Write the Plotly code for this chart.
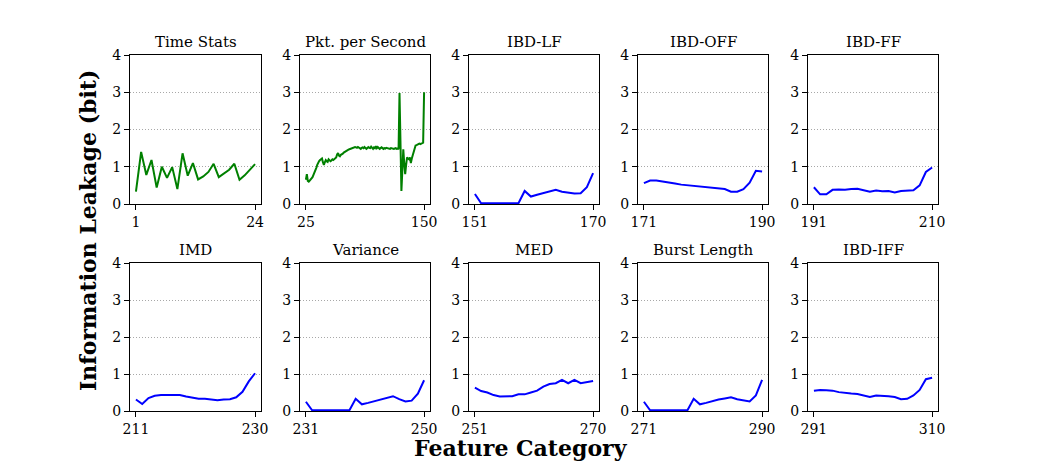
import plotly.graph_objects as go

titles = ["Time Stats", "Pkt. per Second", "IBD-LF", "IBD-OFF", "IBD-FF",
          "IMD", "Variance", "MED", "Burst Length", "IBD-IFF"]
x_starts = [1, 25, 151, 171, 191, 211, 231, 251, 271, 291]
x_ends = [24, 150, 170, 190, 210, 230, 250, 270, 290, 310]

time_stats = [0.33, 1.40, 0.78, 1.18, 0.44, 1.00, 0.70, 0.99, 0.40, 1.36, 0.76, 1.10,
              0.66, 0.74, 0.86, 1.08, 0.72, 0.82, 0.92, 1.08, 0.65, 0.77, 0.91, 1.07]

pkt_per_second = [
    0.65, 0.80, 0.62, 0.60, 0.63, 0.66, 0.68, 0.72, 0.78, 0.83,
    0.88, 0.97, 1.05, 1.12, 1.15, 1.18, 1.20, 1.22, 1.12, 1.05,
    1.12, 1.18, 1.15, 1.13, 1.20, 1.17, 1.15, 1.17, 1.20, 1.18,
    1.20, 1.22, 1.25, 1.33, 1.37, 1.30, 1.28, 1.32, 1.33, 1.35,
    1.38, 1.40, 1.42, 1.43, 1.45, 1.46, 1.47, 1.48, 1.50, 1.52,
    1.52, 1.53, 1.53, 1.52, 1.51, 1.53, 1.52, 1.50, 1.48, 1.51,
    1.52, 1.50, 1.53, 1.50, 1.48, 1.50, 1.53, 1.51, 1.50, 1.54,
    1.50, 1.48, 1.52, 1.50, 1.55, 1.50, 1.53, 1.49, 1.48, 1.50,
    1.52, 1.50, 1.48, 1.50, 1.49, 1.51, 1.50, 1.49, 1.50, 1.48,
    1.50, 1.49, 1.50, 1.48, 1.49, 1.50, 1.48, 1.49, 1.47, 2.98,
    1.70, 0.35, 0.90, 1.47, 1.10, 0.80, 1.05, 1.25, 1.22, 1.20,
    1.25, 1.10, 1.22, 1.32, 1.45, 1.55, 1.57, 1.58, 1.60, 1.60,
    1.62, 1.61, 1.63, 1.64, 1.65, 3.00]

ibd_lf = [0.27, 0.02, 0.02, 0.02, 0.02, 0.02, 0.02, 0.02, 0.35, 0.20,
          0.25, 0.30, 0.35, 0.38, 0.33, 0.30, 0.28, 0.29, 0.45, 0.83]

ibd_off = [0.56, 0.63, 0.63, 0.61, 0.58, 0.55, 0.52, 0.50, 0.48, 0.46,
           0.44, 0.44, 0.40, 0.40, 0.33, 0.33, 0.40, 0.57, 0.89, 0.87]

ibd_ff = [0.45, 0.26, 0.26, 0.38, 0.39, 0.38, 0.40, 0.41, 0.37, 0.33,
          0.36, 0.34, 0.35, 0.31, 0.35, 0.35, 0.37, 0.50, 0.86, 0.98]

imd = [0.31, 0.19, 0.35, 0.41, 0.43, 0.43, 0.43, 0.43, 0.39, 0.35,
       0.33, 0.33, 0.32, 0.29, 0.31, 0.32, 0.37, 0.52, 0.80, 1.02]

variance = [0.25, 0.02, 0.02, 0.02, 0.02, 0.02, 0.02, 0.02, 0.33, 0.18,
            0.22, 0.27, 0.32, 0.36, 0.40, 0.32, 0.26, 0.28, 0.47, 0.83]

med = [0.63, 0.54, 0.50, 0.43, 0.39, 0.39, 0.40, 0.45, 0.45, 0.50,
       0.55, 0.66, 0.73, 0.75, 0.84, 0.75, 0.84, 0.75, 0.79, 0.81]

burst_length = [0.25, 0.02, 0.02, 0.02, 0.02, 0.02, 0.02, 0.02, 0.33, 0.18,
                0.22, 0.27, 0.31, 0.34, 0.37, 0.32, 0.28, 0.26, 0.42, 0.84]

ibd_iff = [0.55, 0.57, 0.56, 0.55, 0.51, 0.48, 0.47, 0.46, 0.43, 0.38,
           0.42, 0.42, 0.40, 0.38, 0.32, 0.33, 0.42, 0.57, 0.86, 0.90]

series = [time_stats, pkt_per_second, ibd_lf, ibd_off, ibd_ff,
          imd, variance, med, burst_length, ibd_iff]
colors = ["green", "green", "blue", "blue", "blue",
          "blue", "blue", "blue", "blue", "blue"]
y_ticks = [0, 1, 2, 3, 4]

W, H = 1042, 462
col_px = [(130, 261), (300, 430), (469, 599), (638, 768), (808, 938)]
row_px = [(55, 204), (263, 411)]
FONT = "DejaVu Serif"

fig = go.Figure()
annotations = []
for i in range(10):
    r, c = divmod(i, 5)
    ax = "" if i == 0 else str(i + 1)
    x0, x1 = x_starts[i], x_ends[i]
    xs = list(range(x0, x1 + 1))
    fig.add_trace(go.Scatter(x=xs, y=series[i], mode="lines",
                             line=dict(color=colors[i], width=2),
                             xaxis="x" + ax, yaxis="y" + ax, showlegend=False,
                             cliponaxis=True))
    pad = 0.05 * (x1 - x0)
    left, right = col_px[c]
    top, bot = row_px[r]
    fig.layout["xaxis" + ax] = dict(
        domain=[left / W, right / W], anchor="y" + ax, automargin=False,
        range=[x0 - pad, x1 + pad], tickvals=[x0, x1],
        showgrid=False, zeroline=False, showline=True, mirror=True,
        linecolor="black", linewidth=1, ticks="outside", ticklen=5,
        tickcolor="black", tickfont=dict(family=FONT, size=14, color="black"))
    fig.layout["yaxis" + ax] = dict(
        domain=[1 - bot / H, 1 - top / H], anchor="x" + ax, automargin=False,
        range=[0, 4], tickvals=y_ticks,
        showgrid=True, gridcolor="#a8a8a8", griddash="1px,2px", gridwidth=1,
        zeroline=False, showline=True, mirror=True,
        linecolor="black", linewidth=1, ticks="outside", ticklen=5,
        tickcolor="black", tickfont=dict(family=FONT, size=14, color="black"))
    annotations.append(dict(text=titles[i], x=(left + right) / 2 / W,
                            y=1 - (top - 13) / H, xref="paper", yref="paper",
                            xanchor="center", yanchor="middle", showarrow=False,
                            font=dict(family=FONT, size=15, color="black")))

annotations.append(dict(text="<b>Information Leakage (bit)</b>", x=88 / W, y=1 - 231 / H,
                        xref="paper", yref="paper", textangle=-90, showarrow=False,
                        xanchor="center", yanchor="middle",
                        font=dict(family=FONT, size=22, color="black")))
annotations.append(dict(text="<b>Feature Category</b>", x=521 / W, y=1 - 448 / H,
                        xref="paper", yref="paper", showarrow=False,
                        xanchor="center", yanchor="middle",
                        font=dict(family=FONT, size=22, color="black")))

fig.update_layout(width=W, height=H, margin=dict(l=0, r=0, t=0, b=0, autoexpand=False),
                  paper_bgcolor="white", plot_bgcolor="white",
                  annotations=annotations)

page_js = """
document.body.style.margin='0px';
document.body.style.padding='0px';
document.body.style.overflow='hidden';
document.documentElement.style.overflow='hidden';
"""
fig.write_html("out.html", config={"displayModeBar": False}, post_script=page_js)
